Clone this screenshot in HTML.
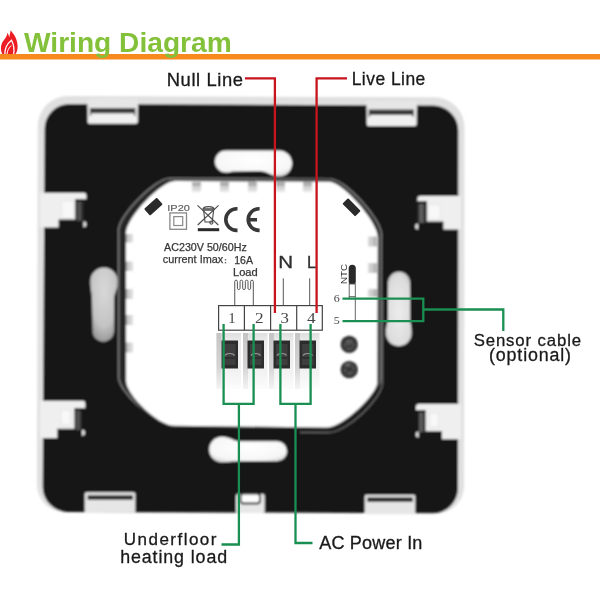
<!DOCTYPE html>
<html><head><meta charset="utf-8">
<style>
html,body{margin:0;padding:0;background:#fff;}
body{width:600px;height:600px;overflow:hidden;}
svg{display:block;will-change:transform;}
text{font-family:"Liberation Sans",sans-serif;}
.srf{font-family:"Liberation Serif",serif;}
</style></head><body>
<svg width="600" height="600" viewBox="0 0 600 600">
<rect x="0" y="0" width="600" height="600" fill="#fff"/>

<!-- title -->
<g id="flame">
  <path d="M2.5,54.5 C0,50 0.5,44 4,40 C6,37.5 7,35.5 7.5,32.8 C8.5,34.5 9,36 9.2,37.5 C9.8,35 10.2,32.5 10.7,30.3 C13.5,34 17.3,38.5 17.6,45.5 C17.8,50 16.5,53 15.2,54.5 Z" fill="#ec1c24"/>
  <path d="M4.8,54.5 C4.6,48.5 7.5,43.5 11.5,40.3 C13.5,44 14.6,49 13.6,54.5" fill="none" stroke="#fff" stroke-width="1.3"/>
  <path d="M7,54.5 C7.2,50.5 9,47.5 11.3,45.5" fill="none" stroke="#fff" stroke-width="1"/>
</g>
<rect x="0" y="54" width="600" height="5.5" fill="#f7891f"/>
<text x="24.0" y="52.3" font-size="27.92" textLength="207.75" lengthAdjust="spacingAndGlyphs" font-weight="bold" fill="#84c13a">Wiring Diagram</text>

<defs>
 <filter id="bp" x="-5%" y="-5%" width="110%" height="110%"><feGaussianBlur stdDeviation="0.8"/></filter>
 <filter id="bo" x="-5%" y="-5%" width="110%" height="110%"><feGaussianBlur stdDeviation="0.8"/></filter>
</defs>
<g filter="url(#bp)">
<!-- frame -->
<path d="M68,96 L434,97.3 A30,30 0 0 1 464.5,127.3 L464,486 A27,27 0 0 1 437,513.3 L64,511.8 A27,27 0 0 1 37,484.8 L37.8,126 A30,30 0 0 1 68,96 Z" fill="#e0e0e0"/>
<!-- black plate -->
<path d="M69.7,103.9 L433.3,105.6 A25,25 0 0 1 458.3,130.6 L458,488.3 A25,25 0 0 1 433,513.3 L67.7,511.9 A25,25 0 0 1 42.7,486.9 L44.6,128.9 A25,25 0 0 1 69.7,103.9 Z" fill="#191919"/>

<!-- top tabs -->
<g>
  <rect x="87.6" y="99.5" width="50.2" height="24.3" rx="2" fill="#f0f0f0"/>
  <rect x="87.6" y="99.5" width="50.2" height="9.2" fill="#e6e6e6"/>
  <path d="M90.5,116 L90.5,108.7 L134.8,108.7 L134.8,116" fill="none" stroke="#3a3a3a" stroke-width="1.2"/>
  <rect x="90.5" y="108.7" width="44.3" height="4.6" fill="#3a3a3a"/>
  <rect x="366.7" y="101" width="50" height="25" rx="2" fill="#f0f0f0"/>
  <rect x="366.7" y="101" width="50" height="9" fill="#e6e6e6"/>
  <path d="M369.3,117 L369.3,110 L413.3,110 L413.3,117" fill="none" stroke="#3a3a3a" stroke-width="1.2"/>
  <rect x="369.3" y="110" width="44" height="5" fill="#3a3a3a"/>
</g>
<!-- bottom tabs -->
<g>
  <rect x="84.7" y="492.3" width="50.7" height="20" rx="2" fill="#e6e6e6"/>
  <rect x="87.6" y="495.2" width="45.4" height="4.6" fill="#2e2e2e"/>
  <rect x="364.7" y="494.7" width="50.6" height="19.5" rx="2" fill="#e6e6e6"/>
  <rect x="367.3" y="497.3" width="45.5" height="4.7" fill="#2e2e2e"/>
  <rect x="236" y="494" width="28.7" height="19" rx="2" fill="#e8e8e8"/>
  <rect x="240.5" y="493.5" width="19.5" height="10" rx="3" fill="#fff" stroke="#2a2a2a" stroke-width="2"/>
</g>
<!-- side notches with latches -->
<defs>
 <linearGradient id="latL" x1="0" y1="0" x2="1" y2="0"><stop offset="0" stop-color="#222"/><stop offset="0.45" stop-color="#5e5e5e"/><stop offset="1" stop-color="#1e1e1e"/></linearGradient>
 <linearGradient id="latR" x1="0" y1="0" x2="1" y2="0"><stop offset="0" stop-color="#3a3a3a"/><stop offset="0.35" stop-color="#6a6a6a"/><stop offset="1" stop-color="#1a1a1a"/></linearGradient>
</defs>
<g>
  <!-- UL -->
  <path d="M40,192.8 L83.4,192.8 Q86.4,192.8 86.4,195.8 L86.4,199.3 L75.5,199.3 L75.5,219.6 L58.6,219.6 L58.6,227.4 L40,227.4 Z" fill="#efefef"/>
  <rect x="61.7" y="201" width="12.1" height="17" fill="#f8f8f8" stroke="#e2e2e2" stroke-width="0.8"/>
  <rect x="75.5" y="199.3" width="7.8" height="21.5" fill="url(#latL)"/>
  <rect x="75.5" y="199.3" width="7.8" height="2.5" fill="#1e1e1e"/>
  <path d="M83.4,221.2 A3,3 0 0 1 83.4,227.2 Z" fill="#e6e6e6"/>
  <!-- LL -->
  <path d="M40,400.7 L82.3,400.7 Q85.3,400.7 85.3,403.7 L85.3,408 L74.7,408 L74.7,428.7 L57.3,428.7 L57.3,438 L40,438 Z" fill="#efefef"/>
  <rect x="61" y="410" width="9.5" height="14.5" fill="#f8f8f8" stroke="#e2e2e2" stroke-width="0.8"/>
  <rect x="74.7" y="408" width="7.3" height="22" fill="url(#latL)"/>
  <rect x="74.7" y="408" width="7.3" height="2.5" fill="#1e1e1e"/>
  <path d="M82,429.8 A3,3 0 0 1 82,435.8 Z" fill="#e6e6e6"/>
  <!-- UR -->
  <path d="M417.4,199.1 Q417.4,196.1 420.4,196.1 L461,196.1 L461,229.4 L443.4,229.4 L443.4,221.6 L426.9,221.6 L426.9,201.3 L417.4,201.3 Z" fill="#efefef"/>
  <rect x="428.6" y="204.3" width="11.7" height="15.2" fill="#f8f8f8" stroke="#e2e2e2" stroke-width="0.8"/>
  <rect x="418.2" y="201.3" width="8.7" height="21.5" fill="url(#latR)"/>
  <rect x="418.2" y="201.3" width="8.7" height="2.5" fill="#1e1e1e"/>
  <path d="M418.2,223.4 A3,3 0 0 0 418.2,229.4 Z" fill="#e6e6e6"/>
  <!-- LR -->
  <path d="M416,407 Q416,404 419,404 L461,404 L461,439.3 L442,439.3 L442,431.3 L425.3,431.3 L425.3,410 L416,410 Z" fill="#efefef"/>
  <rect x="429.5" y="413" width="9" height="14" fill="#f8f8f8" stroke="#e2e2e2" stroke-width="0.8"/>
  <rect x="418.7" y="410" width="6.6" height="22" fill="url(#latR)"/>
  <rect x="418.7" y="410" width="6.6" height="2.5" fill="#1e1e1e"/>
  <path d="M418.7,431.5 A3,3 0 0 0 418.7,437.5 Z" fill="#e6e6e6"/>
</g>

<!-- oval slots -->
<defs>
 <radialGradient id="ovL" cx="0.5" cy="0.3" r="0.7"><stop offset="0" stop-color="#d8d8d8"/><stop offset="0.7" stop-color="#c4c4c4"/><stop offset="1" stop-color="#9a9a9a"/></radialGradient>
 <radialGradient id="ovR" cx="0.5" cy="0.55" r="0.7"><stop offset="0" stop-color="#ececec"/><stop offset="0.7" stop-color="#dcdcdc"/><stop offset="1" stop-color="#b0b0b0"/></radialGradient>
 <radialGradient id="ovT" cx="0.5" cy="0.4" r="0.7"><stop offset="0" stop-color="#ffffff"/><stop offset="0.75" stop-color="#f6f6f6"/><stop offset="1" stop-color="#d0d0d0"/></radialGradient>
</defs>
<path d="M226,150.5 L279,150.5 A13,13 0 0 1 279,176.5 C272,176.5 268,171.5 260,171 L232,171.5 C230,172.3 228,172.5 226,172.5 A11,11 0 0 1 226,150.5 Z" fill="url(#ovT)"/>
<path d="M222,436.7 A12.8,12.8 0 0 0 222,462.3 C228,462.3 232,461.3 240,461.3 L277,461.3 A10,10 0 0 0 277,441.3 L240,441.3 C234,441.3 230,436.7 222,436.7 Z" fill="url(#ovT)"/>
<path d="M104,267.5 A13.7,13.7 0 0 1 117.5,283 C117.5,290 114,293 114,300 L114,331 A10.7,10.7 0 0 1 92.6,331 L92,300 C92,293 90.3,289 90.3,281 A13.7,13.7 0 0 1 104,267.5 Z" fill="url(#ovL)"/>
<path d="M399,271.7 A11,11 0 0 1 410,282.7 L410,318 C410,322 411.7,326 411.7,333 A12.95,12.95 0 0 1 385.8,333 C385.8,326 388,322 388,318 L388,282.7 A11,11 0 0 1 399,271.7 Z" fill="url(#ovR)"/>

<!-- inner panel groove + panel -->
<g transform="translate(118.6,178.4) scale(1.0433,0.995) translate(-126,-181)"><path d="M175,181 L329,181.7 C343,181.7 377.8,222 377.8,237 L377.2,382.5 C377.2,394 343,427.4 327,427.4 L175,425.8 C157,425.8 126.1,394 126.1,381 L126,233 C126,218 161,181 175,181 Z" fill="#262626" stroke="#808080" stroke-width="1.4"/></g>
<path d="M382.6,300 L382.4,383 C382.4,398 347,432.6 328,432.6 L300,432.4" fill="none" stroke="#6a6a6a" stroke-width="1.3"/>
<path d="M175,181 L329,181.7 C343,181.7 377.8,222 377.8,237 L377.2,382.5 C377.2,394 343,427.4 327,427.4 L175,425.8 C157,425.8 126.1,394 126.1,381 L126,233 C126,218 161,181 175,181 Z" fill="none" stroke="#2a2a2a" stroke-width="4"/>
<path d="M175,181 L329,181.7 C343,181.7 377.8,222 377.8,237 L377.2,382.5 C377.2,394 343,427.4 327,427.4 L175,425.8 C157,425.8 126.1,394 126.1,381 L126,233 C126,218 161,181 175,181 Z" fill="#ffffff"/>

<!-- small gray tabs on inner panel -->
<defs>
 <linearGradient id="tabv" x1="0" y1="0" x2="0" y2="1"><stop offset="0" stop-color="#8a8a8a"/><stop offset="0.45" stop-color="#d0d0d0"/><stop offset="1" stop-color="#e8e8e8"/></linearGradient>
 <linearGradient id="tabh" x1="0" y1="0" x2="1" y2="0"><stop offset="0" stop-color="#d8d8d8"/><stop offset="0.6" stop-color="#c8c8c8"/><stop offset="1" stop-color="#9a9a9a"/></linearGradient>
 <linearGradient id="tabhl" x1="1" y1="0" x2="0" y2="0"><stop offset="0" stop-color="#e0e0e0"/><stop offset="0.6" stop-color="#cfcfcf"/><stop offset="1" stop-color="#a0a0a0"/></linearGradient>
</defs>
<g fill="url(#tabhl)">
  <rect x="126" y="234" width="7" height="8.5"/>
  <rect x="126" y="261.5" width="7" height="9.5"/>
  <rect x="126" y="289" width="7" height="10"/>
  <rect x="126" y="315" width="7" height="10"/>
  <rect x="126" y="342.5" width="7" height="10"/>
</g>
<g fill="url(#tabv)">
  <rect x="192" y="182.5" width="9" height="9.5"/>
  <rect x="220" y="182.5" width="9" height="9.5"/>
  <rect x="248" y="182.5" width="9" height="9.5"/>
  <rect x="276" y="182.5" width="9" height="9.5"/>
  <rect x="303" y="182.5" width="9" height="9.5"/>
</g>
<g fill="url(#tabh)">
  <rect x="368" y="236.5" width="8.5" height="10"/>
  <rect x="368" y="263" width="8.5" height="10"/>
  <rect x="368" y="289" width="8.5" height="8"/>
</g>
</g>
<!-- dark diamonds -->
<rect x="-8.5" y="-4.5" width="17" height="9" rx="1" fill="#2a2a2a" transform="translate(153.4,206.6) rotate(-42)"/>
<rect x="-9" y="-4" width="18" height="8" rx="1" fill="#2a2a2a" transform="translate(351.6,207.3) rotate(45)"/>

<!-- labels on panel -->
<text x="167.3" y="210.5" font-size="8.89" textLength="22.5" lengthAdjust="spacingAndGlyphs" fill="#5a5a5a" stroke="#5a5a5a" stroke-width="0.15">IP20</text>
<rect x="169.9" y="212.9" width="16.6" height="16.4" fill="none" stroke="#888" stroke-width="1.3"/>
<rect x="173.8" y="216.6" width="8.9" height="8.9" fill="none" stroke="#8a8a8a" stroke-width="1.2"/>
<g stroke="#4a4a4a" stroke-width="1.1" fill="none">
  <path d="M197.5,205.3 L218.3,225"/>
  <path d="M218.6,205.3 L197.7,225"/>
  <path d="M203,209 C203.5,205.8 213.5,205.8 214,209 Z" stroke-width="1.4"/>
  <path d="M203.6,210.3 L213.6,210.3 L212.2,222 L205,222 Z"/>
  <circle cx="211.4" cy="222.6" r="1.6"/>
</g>
<rect x="197.8" y="228.2" width="21.4" height="3" fill="#2a2a2a"/>
<path d="M237.5,208.8 L236.6,208.8 A10.8,10.8 0 0 0 236.6,230.4 L237.5,230.4" fill="none" stroke="#383838" stroke-width="3.6"/>
<path d="M259.6,208.8 L259,208.8 A10.8,10.8 0 0 0 259,230.4 L259.6,230.4 M248,219.7 L257,219.7" fill="none" stroke="#383838" stroke-width="3.6"/>

<text x="164.1" y="250.9" font-size="10.57" textLength="82.65" lengthAdjust="spacingAndGlyphs" fill="#363636" stroke="#363636" stroke-width="0.25">AC230V 50/60Hz</text>
<text x="162.8" y="263.2" font-size="11.22" textLength="60.4" lengthAdjust="spacingAndGlyphs" fill="#363636" stroke="#363636" stroke-width="0.25">current Imax</text>
<rect x="224.8" y="259" width="1.4" height="1.4" fill="#666"/><rect x="224.8" y="262" width="1.4" height="1.4" fill="#666"/>
<text x="234.25" y="263.5" font-size="10.54" textLength="18.75" lengthAdjust="spacingAndGlyphs" fill="#363636" stroke="#363636" stroke-width="0.25">16A</text>
<text x="233.0" y="275.7" font-size="10.02" textLength="24.75" lengthAdjust="spacingAndGlyphs" fill="#363636" stroke="#363636" stroke-width="0.25">Load</text>
<text x="278.25" y="268.3" font-size="16.78" textLength="14.85" lengthAdjust="spacingAndGlyphs" fill="#2e2e2e" stroke="#2e2e2e" stroke-width="0.3">N</text>
<text x="307.05" y="268.3" font-size="16.78" textLength="9.25" lengthAdjust="spacingAndGlyphs" fill="#2e2e2e" stroke="#2e2e2e" stroke-width="0.3">L</text>

<g stroke="#555" stroke-width="1" fill="none">
  <path d="M234.75,305 L234.75,281.5 A1.325,1.325 0 0 1 237.40,281.5 L237.40,288.2 A1.325,1.325 0 0 0 240.05,288.2 L240.05,281.5 A1.325,1.325 0 0 1 242.70,281.5 L242.70,288.2 A1.325,1.325 0 0 0 245.35,288.2 L245.35,281.5 A1.325,1.325 0 0 1 248.00,281.5 L248.00,288.2 A1.325,1.325 0 0 0 250.65,288.2 L250.65,281.5 A1.325,1.325 0 0 1 253.30,281.5 L253.30,305"/>
  <path d="M283.3,278.3 L283.3,305 M309.7,278.3 L309.7,305"/>
</g>

<!-- terminal blocks -->
<defs>
 <linearGradient id="tbg" x1="0" y1="0" x2="0" y2="1"><stop offset="0" stop-color="#dedede"/><stop offset="0.15" stop-color="#ececec"/><stop offset="0.7" stop-color="#f2f2f2"/><stop offset="1" stop-color="#fcfcfc"/></linearGradient>
 <linearGradient id="tbs" x1="0" y1="0" x2="0" y2="1"><stop offset="0" stop-color="#c4c4c4"/><stop offset="0.6" stop-color="#d4d4d4"/><stop offset="1" stop-color="#f4f4f4"/></linearGradient>
</defs>
<g>
  <rect x="216.5" y="333" width="24.5" height="56" fill="url(#tbg)"/>
  <rect x="216.5" y="333" width="5" height="56" fill="url(#tbs)"/>
  <rect x="221.5" y="340.5" width="16.5" height="28" fill="#2c2c2c"/>
  <rect x="224.0" y="344" width="11.5" height="21" fill="#3e3e3e"/>
  <path d="M225.0,355.5 A5,3 0 0 1 234.5,355.5" stroke="#9a9a9a" stroke-width="1.1" fill="none"/>
  <path d="M224.5,358 L235.0,358" stroke="#222" stroke-width="1" fill="none"/>
  <rect x="243" y="333" width="24.5" height="56" fill="url(#tbg)"/>
  <rect x="243" y="333" width="5" height="56" fill="url(#tbs)"/>
  <rect x="247.5" y="340.5" width="16.5" height="28" fill="#2c2c2c"/>
  <rect x="250.0" y="344" width="11.5" height="21" fill="#3e3e3e"/>
  <path d="M251.0,355.5 A5,3 0 0 1 260.5,355.5" stroke="#9a9a9a" stroke-width="1.1" fill="none"/>
  <path d="M250.5,358 L261.0,358" stroke="#222" stroke-width="1" fill="none"/>
  <rect x="269" y="333" width="24.5" height="56" fill="url(#tbg)"/>
  <rect x="269" y="333" width="5" height="56" fill="url(#tbs)"/>
  <rect x="273.5" y="340.5" width="16.5" height="28" fill="#2c2c2c"/>
  <rect x="276.0" y="344" width="11.5" height="21" fill="#3e3e3e"/>
  <path d="M277.0,355.5 A5,3 0 0 1 286.5,355.5" stroke="#9a9a9a" stroke-width="1.1" fill="none"/>
  <path d="M276.5,358 L287.0,358" stroke="#222" stroke-width="1" fill="none"/>
  <rect x="295" y="333" width="24.5" height="56" fill="url(#tbg)"/>
  <rect x="295" y="333" width="5" height="56" fill="url(#tbs)"/>
  <rect x="299.5" y="340.5" width="16.5" height="28" fill="#2c2c2c"/>
  <rect x="302.0" y="344" width="11.5" height="21" fill="#3e3e3e"/>
  <path d="M303.0,355.5 A5,3 0 0 1 312.5,355.5" stroke="#9a9a9a" stroke-width="1.1" fill="none"/>
  <path d="M302.5,358 L313.0,358" stroke="#222" stroke-width="1" fill="none"/>
</g>
<rect x="218.6" y="305.6" width="103.7" height="24.6" fill="#fff" stroke="#444" stroke-width="1.2"/>
<path d="M244.4,305.6 L244.4,330.2 M270.6,305.6 L270.6,330.2 M296.7,305.6 L296.7,330.2" stroke="#444" stroke-width="1.2"/>
<g font-size="14" fill="#444">
  <text class="srf" x="228.3" y="323" textLength="7.4" lengthAdjust="spacingAndGlyphs">1</text>
  <text class="srf" x="255" y="323" textLength="8.6" lengthAdjust="spacingAndGlyphs">2</text>
  <text class="srf" x="280.5" y="323" textLength="8.4" lengthAdjust="spacingAndGlyphs">3</text>
  <text class="srf" x="307" y="323" textLength="8.6" lengthAdjust="spacingAndGlyphs">4</text>
</g>

<!-- screws -->
<g filter="url(#bp)">
<circle cx="349.2" cy="344.4" r="8.6" fill="#2e2e2e"/>
<circle cx="349.2" cy="344.4" r="6" fill="#505050"/>
<path d="M344,343 C345,339 353,339 354,343 M345,347 L353,346" stroke="#2a2a2a" stroke-width="1.4" fill="none"/>
<path d="M346,341.5 C348,340.5 351,340.5 352.5,341.5" stroke="#8a8a8a" stroke-width="1" fill="none"/>
<circle cx="349.2" cy="369.6" r="8.7" fill="#2e2e2e"/>
<circle cx="349.2" cy="369.6" r="6" fill="#505050"/>
<path d="M344,367 L354,371 M346,373 L352,366" stroke="#2a2a2a" stroke-width="1.4" fill="none"/>
<path d="M345,366 C346,364.5 348,364 350,364.5" stroke="#8a8a8a" stroke-width="1" fill="none"/>
</g>
<!-- NTC -->
<text x="0" y="0" font-size="9" fill="#333" transform="translate(346.5,284) rotate(-90)" textLength="20" lengthAdjust="spacingAndGlyphs">NTC</text>
<rect x="348.7" y="264.7" width="7.1" height="20.3" rx="3.5" fill="#2a2a2a"/>
<rect x="349.2" y="284" width="6.1" height="12.7" fill="#fff" stroke="#555" stroke-width="0.9"/>
<path d="M349.2,296.7 L349.2,298.7 M355.3,296.7 L355.3,321.2" stroke="#555" stroke-width="0.9"/>
<text class="srf" x="333.8" y="301.8" font-size="9.8" fill="#444" textLength="6" lengthAdjust="spacingAndGlyphs">6</text>
<text class="srf" x="333.8" y="323.8" font-size="9.8" fill="#444" textLength="6" lengthAdjust="spacingAndGlyphs">5</text>

<!-- red lines -->
<g stroke="#c8141e" stroke-width="2.3" fill="none">
  <path d="M245,78.3 L274.9,78.3 L274.9,313"/>
  <path d="M347,78.4 L316.6,78.4 L316.6,313"/>
</g>
<!-- green lines -->
<g stroke="#1a8f52" stroke-width="2.3" fill="none">
  <path d="M223.6,324 L223.6,403.8 L253.6,403.8 L253.6,324"/>
  <path d="M280.4,324 L280.4,403.8 L310.6,403.8 L310.6,324"/>
  <path d="M238.9,403.8 L238.9,544.5 L221.5,544.5"/>
  <path d="M295.5,403.8 L295.5,543 L312.5,543"/>
  <path d="M342.5,298.7 L423.3,298.7 L423.3,321.2 L342.5,321.2"/>
  <path d="M423.3,309.5 L503.3,309.5 L503.3,331"/>
</g>

<!-- outside labels -->
<g fill="#1a1a1a" stroke="#1a1a1a" stroke-width="0.3">
  <text x="166.7" y="85.5" font-size="18.39" textLength="76.25" lengthAdjust="spacing">Null Line</text>
  <text x="351.7" y="85.1" font-size="17.43" textLength="73.6" lengthAdjust="spacing">Live Line</text>
  <text x="473.65" y="345.6" font-size="16.74" textLength="107.5" lengthAdjust="spacing">Sensor cable</text>
  <text x="489.0" y="361" font-size="17.83" textLength="82.0" lengthAdjust="spacing">(optional)</text>
  <text x="123.85" y="544.8" font-size="17.02" textLength="92.55" lengthAdjust="spacing">Underfloor</text>
  <text x="120.15" y="562.5" font-size="17.83" textLength="107.0" lengthAdjust="spacing">heating load</text>
  <text x="319.2" y="549.2" font-size="18.06" textLength="103.2" lengthAdjust="spacing">AC Power In</text>
</g>
</svg>
</body></html>
